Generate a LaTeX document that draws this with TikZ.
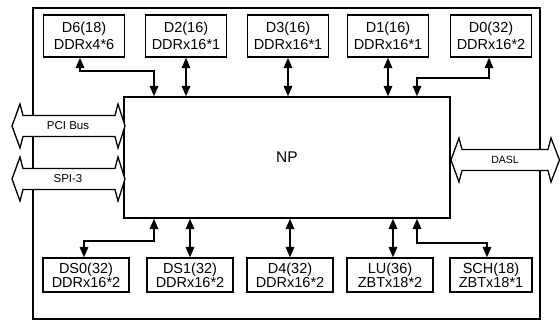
\documentclass[tikz,border=0pt]{standalone}
\usepackage{fontspec}
\setmainfont{Liberation Sans}
\usetikzlibrary{arrows.meta}
\begin{document}
\begin{tikzpicture}[x=1pt,y=-1pt,
  topbox/.style={draw,line width=1.3pt,minimum width=81pt,minimum height=42pt,inner sep=0pt,align=center,
    font=\fontsize{14.5}{17}\selectfont},
  botbox/.style={draw,line width=1.3pt,minimum width=86pt,minimum height=34pt,inner sep=0pt,align=center,
    font=\fontsize{14.5}{13}\selectfont},
  conn/.style={line width=1.8pt,{Triangle[length=10.5pt,width=8.5pt]}-{Triangle[length=10.5pt,width=8.5pt]}},
  fat/.style={draw,line width=1.3pt,fill=white,line join=miter},
  lbl/.style={inner sep=0pt,font=\fontsize{11.5}{12}\selectfont}]
\useasboundingbox (0,0) rectangle (560,322);
% outer frame
\draw[line width=1.3pt] (33,8) rectangle (540,319);
% NP
\node[draw,line width=1.3pt,minimum width=326pt,minimum height=121pt,inner sep=0pt,
  font=\fontsize{15.5}{16}\selectfont] (np) at (287,157.5) {NP};
% top boxes
\node[topbox] (d6) at (84,36) {D6(18)\\DDRx4*6};
\node[topbox] (d2) at (186,36) {D2(16)\\DDRx16*1};
\node[topbox] (d3) at (288,36) {D3(16)\\DDRx16*1};
\node[topbox] (d1) at (388,36) {D1(16)\\DDRx16*1};
\node[topbox] (d0) at (491,36) {D0(32)\\DDRx16*2};
% bottom boxes
\node[botbox] (ds0) at (86,275) {DS0(32)\\DDRx16*2};
\node[botbox] (ds1) at (190,275) {DS1(32)\\DDRx16*2};
\node[botbox] (d4) at (290,275) {D4(32)\\DDRx16*2};
\node[botbox] (lu) at (390,275) {LU(36)\\ZBTx18*2};
\node[botbox,minimum width=82pt] (sch) at (491,275) {SCH(18)\\ZBTx18*1};
% helper coordinates
\coordinate (c80) at (80,0);
\coordinate (c84) at (84,0);
\coordinate (c154) at (154,0);
\coordinate (c393) at (393,0);
\coordinate (c417) at (417,0);
\coordinate (c487) at (487,0);
\coordinate (c489) at (489,0);
% top connectors
\draw[conn] (d6.south -| c80) -- ++(0,13) -| (np.north -| c154);
\draw[conn] (d2.south) -- (d2.south |- np.north);
\draw[conn] (d3.south) -- (d3.south |- np.north);
\draw[conn] (d1.south) -- (d1.south |- np.north);
\draw[conn] (d0.south -| c489) -- ++(0,20) -| (np.north -| c417);
% bottom connectors
\draw[conn] (np.south -| c154) -- ++(0,22) -| (ds0.north -| c84);
\draw[conn] (np.south -| ds1.north) -- (ds1.north);
\draw[conn] (np.south -| d4.north) -- (d4.north);
\draw[conn] (np.south -| c393) -- (lu.north -| c393);
\draw[conn] (np.south -| c417) -- ++(0,24) -| (sch.north -| c487);
% fat double arrows
\draw[fat] (12,126) -- (20,104) -- (23,115.5) -- (115,115.5) -- (118,104) -- (125,126)
  -- (118,148) -- (115,136.5) -- (23,136.5) -- (20,148) -- cycle;
\node[lbl] (pci) at (68,126) {PCI Bus};
\draw[fat] (12,179) -- (20,157) -- (23,168.5) -- (115,168.5) -- (118,157) -- (125,179)
  -- (118,201) -- (115,189.5) -- (23,189.5) -- (20,201) -- cycle;
\node[lbl] (spi) at (68,179) {SPI-3};
\draw[fat] (451,160) -- (459,138) -- (462,149.5) -- (548,149.5) -- (551,138) -- (559.5,160)
  -- (551,182) -- (548,170.5) -- (462,170.5) -- (459,182) -- cycle;
\node[lbl,font=\fontsize{10.5}{11}\selectfont] (dasl) at (505,160) {DASL};
\end{tikzpicture}
\end{document}
